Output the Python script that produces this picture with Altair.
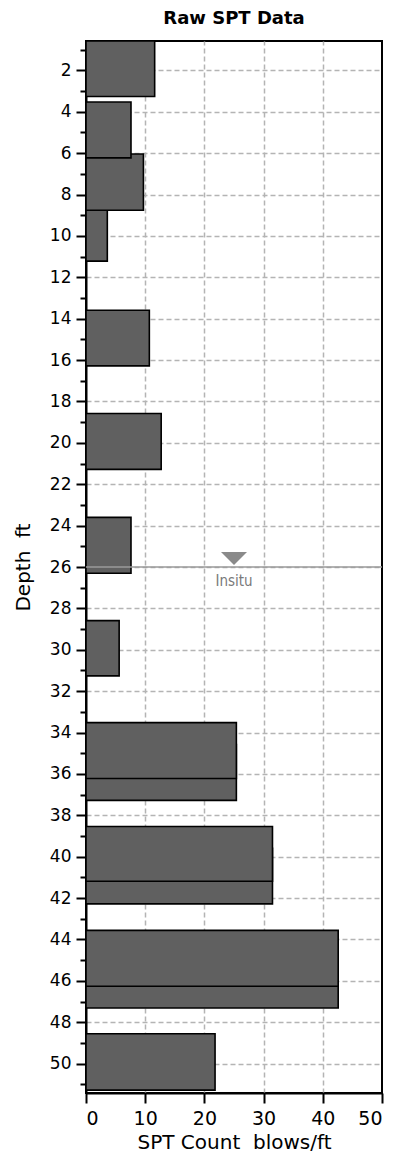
import altair as alt
import pandas as pd

# SPT samples (depth in ft, SPT count in blows/ft)
sample_top = [0.58, 3.53, 6.04, 8.76, 13.59, 18.58, 23.60, 28.59, 33.52, 34.58, 38.54, 39.60, 43.56, 44.61, 48.56]
sample_bottom = [3.26, 6.23, 8.76, 11.22, 16.28, 21.28, 26.30, 31.26, 36.22, 37.28, 41.19, 42.28, 46.26, 47.31, 51.28]
spt_count = [11.6, 7.6, 9.7, 3.6, 10.7, 12.7, 7.6, 5.6, 25.4, 25.4, 31.5, 31.5, 42.6, 42.6, 21.8]

water_depth = [26.0]
water_marker_x = [25.0]
water_label = ["Insitu"]

y_major_ticks = list(range(2, 51, 2))
y_minor_ticks = list(range(1, 52, 2))
x_ticks = [0, 5, 10, 15, 20, 25, 30, 35, 40, 45, 50]

bars = pd.DataFrame({"top": sample_top, "bottom": sample_bottom, "spt": spt_count})
bars = bars.iloc[::-1].reset_index(drop=True)  # shallower samples drawn on top
water = pd.DataFrame({"depth": water_depth, "x": water_marker_x, "label": water_label})

FONT = "DejaVu Sans"

xscale = alt.Scale(domain=[0, 50], nice=False, zero=False)
yscale = alt.Scale(domain=[0.58, 51.42], nice=False, zero=False, reverse=True)

xaxis = alt.Axis(
    values=x_ticks,
    labelExpr="datum.value % 10 == 0 ? datum.label : ''",
    labelOverlap=False,
    tickSize={"condition": {"test": "datum.value % 10 == 0", "value": 10}, "value": 5},
    gridOpacity={"condition": {"test": "datum.value % 10 == 0 && datum.value > 0 && datum.value < 50", "value": 1}, "value": 0},
    grid=True,
    title="SPT Count\u00a0 blows/ft",
)
y_major_axis = alt.Axis(
    values=y_major_ticks,
    orient="left",
    labelOverlap=False,
    tickSize=10,
    grid=True,
    title="Depth\u00a0 ft",
)
y_minor_axis = alt.Axis(
    values=y_minor_ticks,
    orient="left",
    labels=False,
    grid=False,
    domain=False,
    tickSize=6,
    title=None,
)

bar_layer = alt.Chart(bars).mark_rect(
    fill="#606060", stroke="#000000", strokeWidth=1.6
).encode(
    x=alt.X("spt:Q", scale=xscale, axis=xaxis),
    x2=alt.datum(0),
    y=alt.Y("top:Q", scale=yscale, axis=y_major_axis),
    y2="bottom:Q",
)

rule_layer = alt.Chart(water).mark_rule(color="#9a9a9a", strokeWidth=1.5).encode(
    y=alt.Y("depth:Q", scale=yscale, axis=y_minor_axis)
)

tri_layer = alt.Chart(water).mark_point(
    shape="M-1,-0.5L1,-0.5L0,0.5Z", filled=True, size=676, color="#8a8a8a",
    opacity=1, strokeWidth=0, yOffset=-8.5,
).encode(
    x=alt.X("x:Q", scale=xscale),
    y=alt.Y("depth:Q", scale=yscale, axis=None),
)

text_layer = alt.Chart(water).mark_text(
    font="Liberation Sans Narrow, DejaVu Sans Condensed, Roboto Condensed, Roboto, sans-serif",
    fontSize=15, color="#7a7a7a",
    baseline="alphabetic", align="center", dy=19,
).encode(
    x=alt.X("x:Q", scale=xscale),
    y=alt.Y("depth:Q", scale=yscale, axis=None),
    text="label:N",
)

chart = alt.layer(bar_layer, rule_layer, tri_layer, text_layer).resolve_axis(
    y="independent"
).properties(
    width=296,
    height=1052,
    title=alt.TitleParams("Raw SPT Data", font=FONT, fontSize=18, fontWeight="bold",
                          anchor="middle", color="#000000", offset=12),
    autosize=alt.AutoSizeParams(type="none"),
    padding={"left": 78, "top": 33, "right": 9, "bottom": 66},
).configure_view(
    stroke="#000000", strokeWidth=2
).configure_axis(
    labelFont=FONT, labelColor="#000000",
    titleFont=FONT, titleFontSize=20, titleFontWeight="normal", titleColor="#000000",
    tickColor="#000000", tickWidth=2,
    domainColor="#000000", domainWidth=2,
    gridColor="#b4b4b4", gridDash=[5, 3], gridWidth=1.5,
).configure_axisY(
    labelFontSize=17, labelPadding=5, titlePadding=16,
).configure_axisX(
    labelFontSize=19, labelPadding=6, titlePadding=4,
)

chart.save("out.html", embed_options={"renderer": "svg", "actions": False})
